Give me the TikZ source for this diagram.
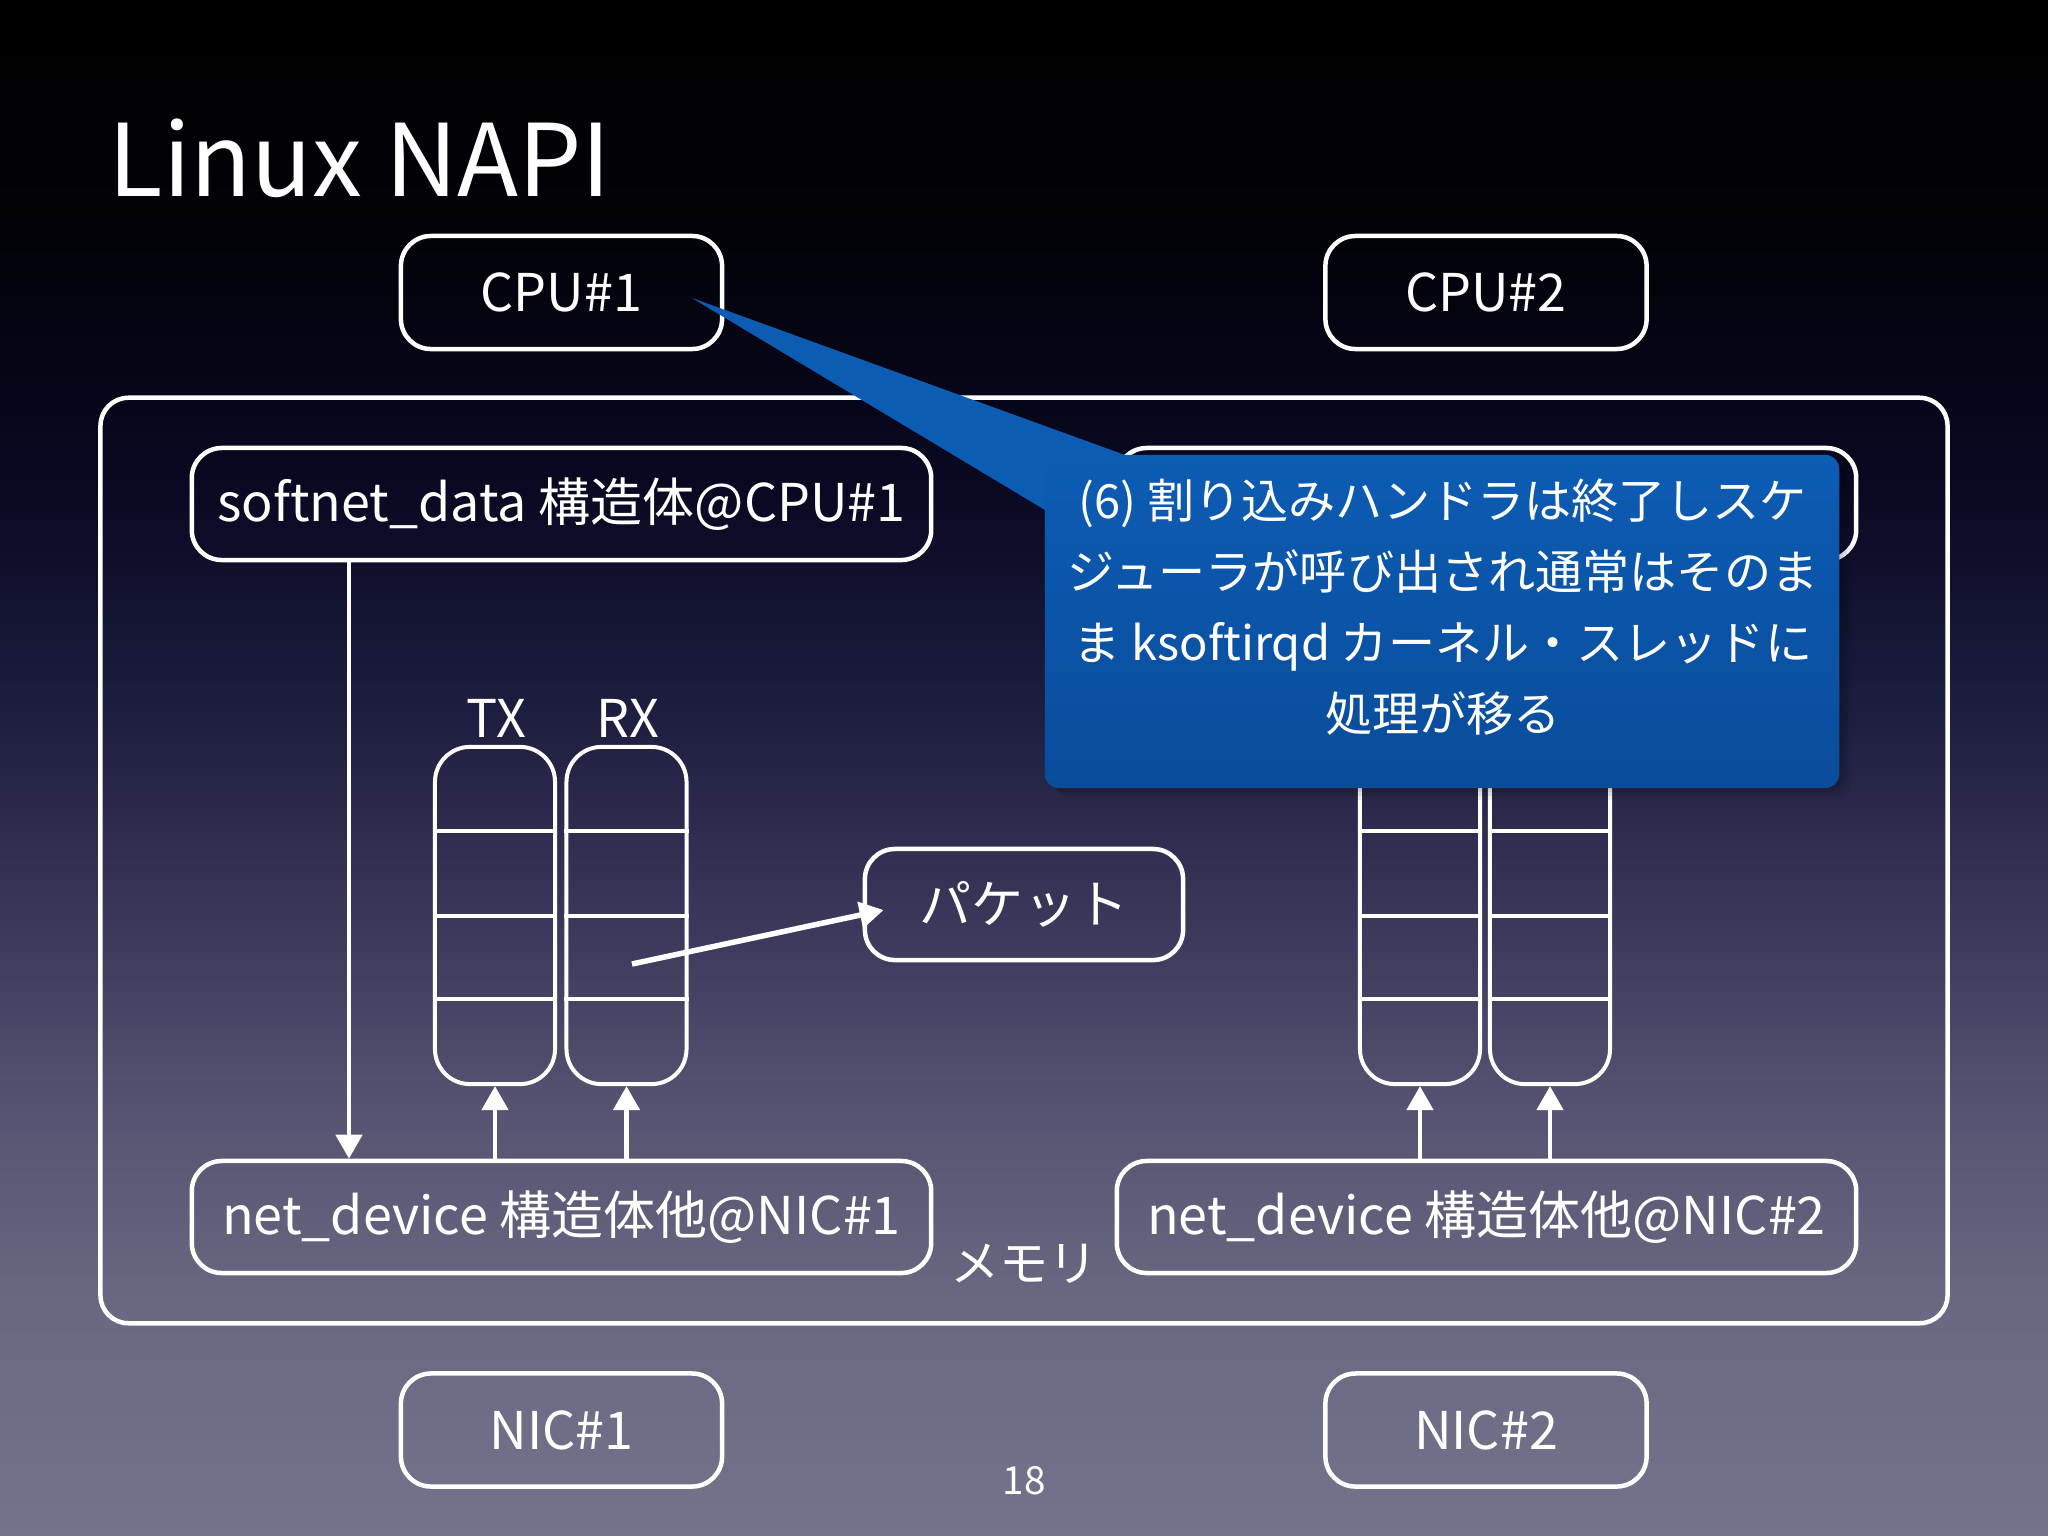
\documentclass[tikz,border=0pt]{standalone}
\usepackage{fontspec}
\setmainfont{Noto Sans CJK JP}
\usetikzlibrary{arrows.meta}
\definecolor{calltop}{RGB}{12,92,180}
\definecolor{callbot}{RGB}{10,76,154}
\definecolor{wedgeblue}{RGB}{11,92,178}
\definecolor{bgA}{RGB}{0,0,0}
\definecolor{bgB}{RGB}{2,2,8}
\definecolor{bgC}{RGB}{8,8,34}
\definecolor{bgD}{RGB}{28,28,62}
\definecolor{bgE}{RGB}{55,53,88}
\definecolor{bgF}{RGB}{84,82,112}
\definecolor{bgG}{RGB}{105,104,130}
\definecolor{bgH}{RGB}{116,115,140}
\pgfdeclareverticalshading{slidebg}{100bp}{color(0bp)=(bgH); color(25bp)=(bgH); color(32.7bp)=(bgG); color(39.2bp)=(bgF); color(45.7bp)=(bgE); color(52.2bp)=(bgD); color(59.4bp)=(bgC); color(67.5bp)=(bgB); color(75bp)=(bgA); color(100bp)=(bgA)}
\begin{document}
\begin{tikzpicture}[x=0.01cm,y=-0.01cm,
  box/.style={draw=white, line width=0.045cm, rounded corners=0.3cm, inner sep=0pt, text=white, font=\fontsize{14.8}{18}\selectfont},
  smallbox/.style={box, minimum width=3.21cm, minimum height=1.13cm},
  widebox/.style={box, minimum width=7.39cm, minimum height=1.12cm},
  queue/.style={draw=white, line width=0.04cm, rounded corners=0.35cm, minimum width=1.2cm, minimum height=3.37cm, inner sep=0pt},
  qline/.style={white, line width=0.04cm},
  arr/.style={white, line width=0.045cm, -{Triangle[length=0.24cm,width=0.26cm]}},
  lbl/.style={text=white, inner sep=0pt, font=\fontsize{14.8}{18}\selectfont}]
\useasboundingbox (0,0) rectangle (2048,1536);
\shade[shading=slidebg] (0,0) rectangle (2048,1536);

\node[anchor=base west, text=white, inner sep=0pt, font=\fontsize{28.5}{34}\selectfont] (title) at (108,196) {Linux NAPI};

\node[draw=white, line width=0.045cm, rounded corners=0.28cm, minimum width=18.46cm, minimum height=9.25cm, inner sep=0pt] (mem) at (1024,860.5) {};
\node[lbl, font=\fontsize{14}{17}\selectfont] (memlabel) at (1024,1264) {メモリ};

\node[smallbox] (cpu1) at (561.5,292.5) {CPU\#1};
\node[smallbox] (cpu2) at (1486,292.5) {CPU\#2};
\node[smallbox] (nic1) at (561.5,1430) {NIC\#1};
\node[smallbox] (nic2) at (1486,1430) {NIC\#2};

\node[widebox] (sd1) at (561.5,504) {softnet\_data 構造体@CPU\#1};
\node[widebox] (sd2) at (1486.5,504) {};
\node[widebox] (nd1) at (561.5,1217) {net\_device 構造体他@NIC\#1};
\node[widebox] (nd2) at (1486.5,1217) {net\_device 構造体他@NIC\#2};
\node[box, minimum width=3.18cm, minimum height=1.11cm] (pkt) at (1024,904.5) {パケット};

\node[queue] (tx1) at (495,915.5) {};
\node[queue] (rx1) at (626.5,915.5) {};
\node[queue] (tx2) at (1420,915.5) {};
\node[queue] (rx2) at (1550,915.5) {};
\node[lbl] (txl) at (496,718) {TX};
\node[lbl] (rxl) at (628,718) {RX};

\coordinate (d1) at (0,831);
\coordinate (d2) at (0,916);
\coordinate (d3) at (0,999);
\foreach \q in {tx1,rx1,tx2,rx2}{
  \foreach \d in {d1,d2,d3}{
    \draw[qline] (\q.west |- \d) -- (\q.east |- \d);
  }
}

\coordinate (c1) at (349,0);
\draw[arr] (sd1.south -| c1) -- (nd1.north -| c1);
\draw[arr] (nd1.north -| tx1) -- (tx1.south);
\draw[arr] (nd1.north -| rx1) -- (rx1.south);
\draw[arr] (nd2.north -| tx2) -- (tx2.south);
\draw[arr] (nd2.north -| rx2) -- (rx2.south);
\coordinate (pstart) at (632,964);
\draw[arr, line width=0.055cm] (pstart) -- ([xshift=0.21cm,yshift=-0.055cm]pkt.west);

\coordinate (tip) at (692,298);
\foreach \s in {4,8,12}{
  \fill[black, opacity=0.07, rounded corners=0.16cm] (1045+\s,455+\s) rectangle (1839+\s,788+\s);
}
\fill[wedgeblue] (tip) -- (1125,455) -- (1110,470) -- (1045,510) -- cycle;
\node[top color=calltop, bottom color=callbot, rounded corners=0.14cm, minimum width=7.94cm, minimum height=3.33cm, inner sep=0pt] (call) at (1442,621.5) {};
\node[text=white, align=center, inner sep=0pt, font=\fontsize{13.4}{20.2}\selectfont] (calltext) at (1443,607) {(6) 割り込みハンドラは終了しスケ\\ジューラが呼び出され通常はそのま\\ま ksoftirqd カーネル・スレッドに\\処理が移る};

\node[text=white, inner sep=0pt, font=\fontsize{11}{13}\selectfont] (pg) at (1024,1481) {18};
\end{tikzpicture}
\end{document}
